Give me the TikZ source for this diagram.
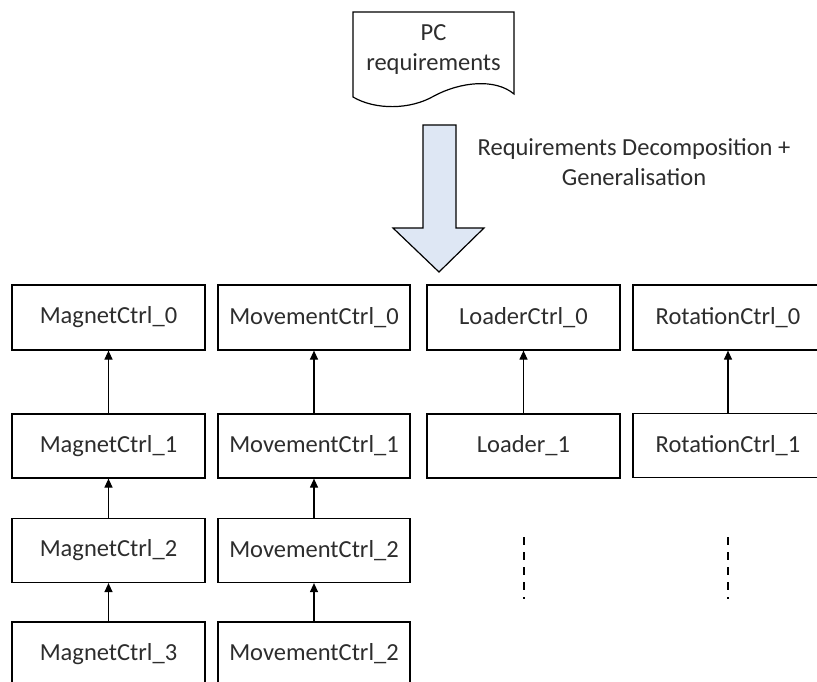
\documentclass[tikz,border=0pt]{standalone}
\usepackage{fontspec}
\setmainfont{Carlito}
\usetikzlibrary{arrows.meta}
\definecolor{inkgray}{RGB}{45,45,45}
\definecolor{arrowfill}{RGB}{222,231,244}
\tikzset{
  unit box/.style={draw=black, line width=1.2pt, minimum width=193pt, minimum height=64pt,
    inner sep=0pt, font=\fontsize{24.5}{29}\selectfont, text=inkgray},
  refine/.style={draw=black, line width=1.2pt, -{Triangle[width=8pt,length=9pt]}},
  gap line/.style={draw=black, line width=1.2pt, dash pattern=on 8pt off 7pt},
}
\begin{document}
\begin{tikzpicture}[x=1pt, y=-1pt]
\useasboundingbox (0,0) rectangle (817,682);
\clip (0,0) rectangle (817,682);

% source document with wavy bottom edge
\draw[line width=1.2pt, fill=white]
  (353,12) -- (514,12) -- (514,94)
  .. controls (495,78) and (460,82) .. (434,96)
  .. controls (410,110) and (375,110) .. (353,97) -- cycle;
\node[font=\fontsize{24.5}{30}\selectfont, text=inkgray, align=center] (pcreq) at (433.5,50)
  {PC\\requirements};

% decomposition block arrow
\draw[line width=1.2pt, fill=arrowfill]
  (423,125) -- (456,125) -- (456,228) -- (484,228) -- (439,272) -- (393,228) -- (423,228) -- cycle;
\node[font=\fontsize{24.5}{30}\selectfont, text=inkgray, align=center] (decomp) at (634,162)
  {Requirements Decomposition +\\Generalisation};

% column 1
\node[unit box, minimum height=65pt] (mag0) at (108.5,317.5) {MagnetCtrl\_0};
\node[unit box] (mag1) at (108.5,446) {MagnetCtrl\_1};
\node[unit box] (mag2) at (108.5,550.5) {MagnetCtrl\_2};
\node[unit box] (mag3) at (108.5,654) {MagnetCtrl\_3};
% column 2
\node[unit box, minimum width=192pt, minimum height=65pt] (mov0) at (314,317.5) {MovementCtrl\_0};
\node[unit box, minimum width=192pt] (mov1) at (314,446) {MovementCtrl\_1};
\node[unit box, minimum width=192pt] (mov2) at (314,550.5) {MovementCtrl\_2};
\node[unit box, minimum width=192pt] (mov3) at (314,654) {MovementCtrl\_2};
% column 3
\node[unit box, minimum height=65pt] (load0) at (523.5,317.5) {LoaderCtrl\_0};
\node[unit box] (load1) at (523.5,446) {Loader\_1};
% column 4
\node[unit box, minimum width=190pt, minimum height=65pt] (rot0) at (728,317.5) {RotationCtrl\_0};
\node[unit box, minimum width=190pt] (rot1) at (728,445.5) {RotationCtrl\_1};

% refinement links
\draw[refine] (mag1) -- (mag0);
\draw[refine] (mag2) -- (mag1);
\draw[refine] (mag3) -- (mag2);
\draw[refine] (mov1) -- (mov0);
\draw[refine] (mov2) -- (mov1);
\draw[refine] (mov3) -- (mov2);
\draw[refine] (load1) -- (load0);
\draw[refine] (rot1) -- (rot0);

% continuation marks
\coordinate (loadgapA) at (524,537);
\coordinate (loadgapB) at (524,599);
\coordinate (rotgapA) at (728,537);
\coordinate (rotgapB) at (728,599);
\draw[gap line] (loadgapA) -- (loadgapB);
\draw[gap line] (rotgapA) -- (rotgapB);
\end{tikzpicture}
\end{document}
